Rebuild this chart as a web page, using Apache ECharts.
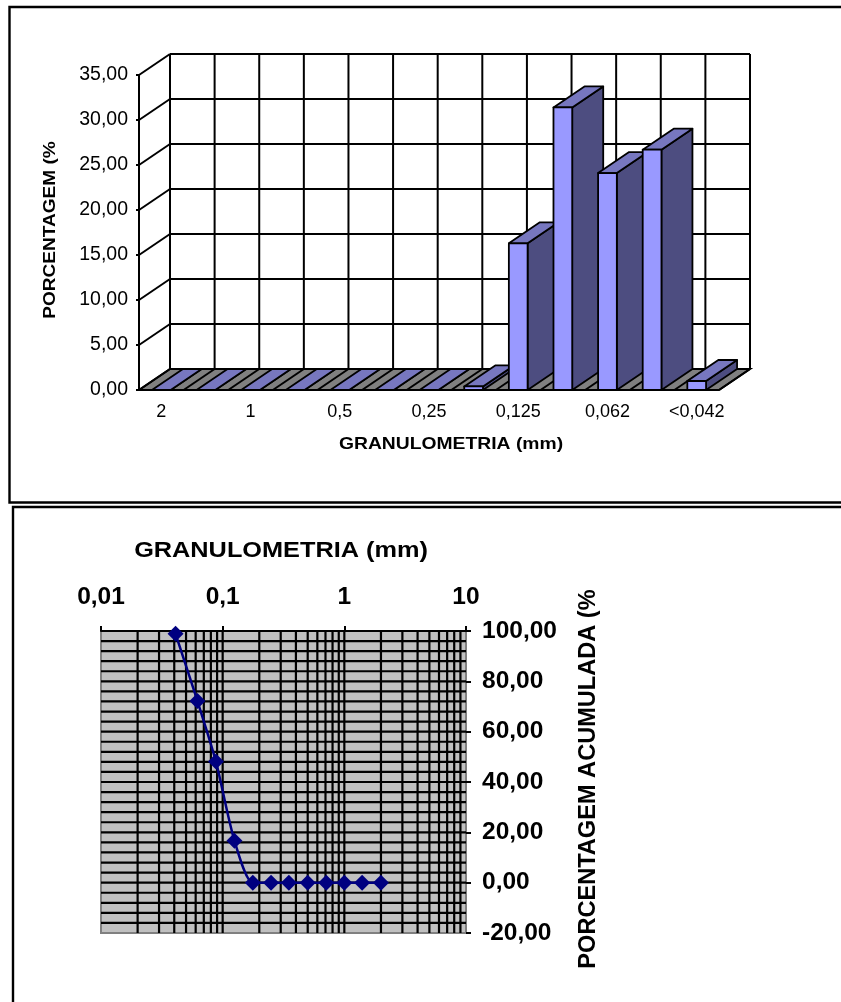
<!DOCTYPE html>
<html><head><meta charset="utf-8">
<style>html,body{margin:0;padding:0;background:#fff}#c{width:841px;height:1002px}</style>
<script src="https://cdn.jsdelivr.net/npm/echarts@6/dist/echarts.min.js"></script>
</head><body><div id="c"></div>
<script>
const sizeLabels = ['2','1,4','1','0,71','0,5','0,35','0,25','0,177','0,125','0,088','0,062','0,042','<0,042'];
const percentValues = [0,0,0,0,0,0,0,0.4,16.3,31.4,24.1,26.7,1.0];
const percentTicks = [0,5,10,15,20,25,30,35];
const cumulativeSizes = [2,1.4,1,0.71,0.5,0.35,0.25,0.177,0.125,0.088,0.062,0.041];
const cumulativeValues = [0,0,0,0,0,0,0,0,16.7,48.1,72.2,98.9];
const logGridValues = [0.02,0.03,0.04,0.05,0.06,0.07,0.08,0.09,0.1,0.2,0.3,0.4,0.5,0.6,0.7,0.8,0.9,1,2,3,4,5,6,7,8,9];
const cumGridValues = [-16,-12,-8,-4,0,4,8,12,16,20,24,28,32,36,40,44,48,52,56,60,64,68,72,76,80,84,88,92,96];

const FONT = '"Liberation Sans", Arial, sans-serif';
const DX = 31, DY = -21;
const comma = v => v.toFixed(2).replace('.', ',');
const ln = (x1,y1,x2,y2,w) => ({type:'line',shape:{x1,y1,x2,y2},style:{stroke:'#000',lineWidth:w||2}});

function renderWalls(params, api){
  const n = sizeLabels.length;
  const band = api.size([1,0])[0];
  const x0 = api.coord([0,0])[0]-band/2, y0 = api.coord([0,0])[1];
  const yTop = api.coord([0,percentTicks[percentTicks.length-1]])[1];
  const kids = [];
  kids.push({type:'rect',shape:{x:x0+DX,y:yTop+DY,width:band*n,height:y0-yTop},style:{fill:'#fff'}});
  percentTicks.forEach(t=>{
    const y = api.coord([0,t])[1];
    if(t>0) kids.push(ln(x0,y,x0+DX,y+DY));
    kids.push(ln(x0+DX,y+DY,x0+DX+band*n,y+DY));
  });
  for(let i=0;i<=n;i++) kids.push(ln(x0+DX+band*i,yTop+DY,x0+DX+band*i,y0+DY));
  kids.push({type:'polygon',shape:{points:[[x0,y0],[x0+band*n,y0],[x0+band*n+DX,y0+DY],[x0+DX,y0+DY]]},style:{fill:'#808080',stroke:'#000',lineWidth:2}});
  for(let i=0;i<=n;i++) kids.push(ln(x0+band*i,y0,x0+band*i+DX,y0+DY));
  return {type:'group',children:kids};
}
function renderBar(params, api){
  const cat = api.value(0), v = api.value(1);
  const band = api.size([1,0])[0], w = band*0.42;
  const p = api.coord([cat,v]), b = api.coord([cat,0]);
  const l = p[0]-w/2, r = p[0]+w/2, t = p[1], y0 = b[1];
  const st = f => ({fill:f,stroke:'#000',lineWidth:1.8,lineJoin:'round'});
  return {type:'group',children:[
    {type:'polygon',shape:{points:[[r,t],[r+DX,t+DY],[r+DX,y0+DY],[r,y0]]},style:st('#4D4D80')},
    {type:'polygon',shape:{points:[[l,t],[r,t],[r+DX,t+DY],[l+DX,t+DY]]},style:st('#7777BF')},
    {type:'rect',shape:{x:l,y:t,width:w,height:y0-t},style:st('#9999FF')}
  ]};
}
function renderLogGrid(params, api){
  const kids = [];
  const a = api.coord([0.01,-20]), b = api.coord([10,100]);
  logGridValues.forEach(v=>{const x=api.coord([v,0])[0]; kids.push(ln(x,a[1],x,b[1],2.2));});
  cumGridValues.forEach(v=>{const y=api.coord([1,v])[1]; kids.push(ln(a[0],y,b[0],y,2.2));});
  return {type:'group',children:kids};
}
const txt = (text,x,y,size,sx,rot) => ({type:'text',x,y,rotation:rot||0,scaleX:sx,scaleY:1,z:20,
  style:{text,fill:'#000',font:'bold '+size+'px '+FONT,align:'center',verticalAlign:'middle'}});
const pl = pts => ({type:'polyline',shape:{points:pts},style:{stroke:'#000',lineWidth:2.4,fill:'none'},z:20});

const chart = echarts.init(document.getElementById('c'),null,{renderer:'canvas'});
chart.setOption({
  animation:false,
  backgroundColor:'#fff',
  grid:[
    {left:139,top:75,width:580,height:315},
    {left:101,top:631,width:365,height:302,show:true,backgroundColor:'#C0C0C0',borderWidth:2,borderColor:'#808080'}
  ],
  xAxis:[
    {gridIndex:0,type:'category',data:sizeLabels,boundaryGap:true,
      axisLine:{show:false},axisTick:{show:false},
      axisLabel:{interval:1,margin:13,color:'#000',fontFamily:FONT,fontSize:18}},
    {gridIndex:1,type:'log',logBase:10,min:0.01,max:10,position:'top',
      axisLine:{show:true,onZero:false,lineStyle:{color:'#000',width:2}},
      axisTick:{show:true,length:5,lineStyle:{color:'#000',width:2}},
      minorTick:{show:false},splitLine:{show:false},minorSplitLine:{show:false},
      axisLabel:{margin:21,color:'#000',fontFamily:FONT,fontSize:24.5,fontWeight:'bold',
        formatter:v=>String(v).replace('.',',')}}
  ],
  yAxis:[
    {gridIndex:0,type:'value',min:0,max:35,interval:5,
      axisLine:{show:true,onZero:false,lineStyle:{color:'#000',width:2}},
      axisTick:{show:true,length:3,lineStyle:{color:'#000',width:2}},
      splitLine:{show:false},
      axisLabel:{margin:11,color:'#000',fontFamily:FONT,fontSize:19.5,formatter:comma}},
    {gridIndex:1,type:'value',min:-20,max:100,interval:20,position:'right',
      axisLine:{show:true,onZero:false,lineStyle:{color:'#808080',width:2}},
      axisTick:{show:true,length:5,lineStyle:{color:'#000',width:2}},
      splitLine:{show:false},
      axisLabel:{margin:16,color:'#000',fontFamily:FONT,fontSize:24.5,fontWeight:'bold',formatter:comma}}
  ],
  series:[
    {type:'custom',xAxisIndex:0,yAxisIndex:0,renderItem:renderWalls,data:[[0,0]],clip:false,silent:true,z:1},
    {type:'custom',xAxisIndex:0,yAxisIndex:0,renderItem:renderBar,encode:{x:0,y:1},clip:false,silent:true,z:2,
      data:percentValues.map((v,i)=>[i,v])},
    {type:'custom',xAxisIndex:1,yAxisIndex:1,renderItem:renderLogGrid,data:[[1,0]],clip:false,silent:true,z:1},
    {type:'line',xAxisIndex:1,yAxisIndex:1,z:3,smooth:0.25,symbol:'diamond',symbolSize:16,
      lineStyle:{color:'#000080',width:2.5},itemStyle:{color:'#000080'},
      data:cumulativeSizes.map((x,i)=>[x,cumulativeValues[i]])}
  ],
  graphic:[
    pl([[841,7],[9.5,7],[9.5,502.5],[841,502.5]]),
    pl([[841,507],[13,507],[13,1002]]),
    txt('GRANULOMETRIA (mm)',451,444,16.5,1.17),
    txt('PORCENTAGEM (%',50,230,17,1.12,Math.PI/2),
    txt('GRANULOMETRIA (mm)',281,551,22,1.15),
    txt('PORCENTAGEM ACUMULADA (%',589,779,23,1.025,Math.PI/2)
  ]
});
</script></body></html>
